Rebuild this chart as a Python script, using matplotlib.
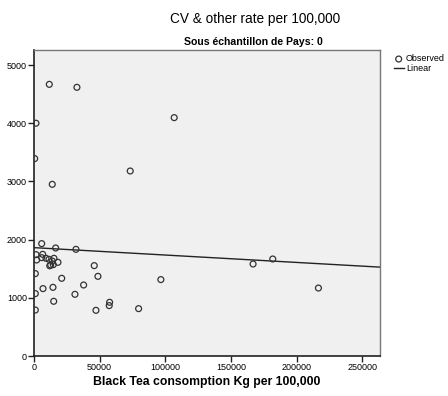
import numpy as np
import matplotlib
matplotlib.use("Agg")
import matplotlib.pyplot as plt

plt.rcParams['font.family'] = ['Liberation Sans', 'DejaVu Sans']

# observed points (tea consumption, CV rate)
tea = [11650, 32700, 1500, 500, 13900, 73300, 106800,
       96650, 166900, 181900, 216700,
       5860, 16500, 31960, 1500, 6600, 2000, 5860, 9130, 11400, 15200,
       13900, 18260, 12700, 14700, 12000, 45900, 1000, 48700, 21100,
       37800, 14460, 6850, 1000, 31200, 15000, 57600, 57300, 47200,
       79700, 1000]
cv = [4668, 4617, 4000, 3392, 2950, 3179, 4096,
      1313, 1581, 1667, 1168,
      1931, 1856, 1833, 1742, 1747, 1650, 1690, 1679, 1661, 1679,
      1632, 1610, 1564, 1570, 1550, 1553, 1416, 1369, 1335,
      1220, 1180, 1158, 1072, 1060, 940, 923, 866, 785,
      814, 790]

# linear fit shown in the chart
intercept = 1862
slope = -0.00127

fig = plt.figure(figsize=(4.48, 3.96), dpi=100, facecolor='w')
ax = fig.add_axes([0.0759, 0.101, 0.772, 0.773], facecolor='#f0f0f0')

ax.scatter(tea, cv, s=18, facecolors='none', edgecolors='#333333',
           linewidths=0.9, label='Observed', zorder=3)
xs = np.array([0, 263500])
ax.plot(xs, intercept + slope * xs, color='#222222', lw=1.0, label='Linear', zorder=2)

ax.set_xlim(0, 263500)
ax.set_ylim(0, 5260)
ax.set_xticks([0, 50000, 100000, 150000, 200000, 250000])
ax.set_yticks([0, 1000, 2000, 3000, 4000, 5000])
ax.tick_params(axis='both', labelsize=6.5, length=4, width=1.0, color='#222222',
               direction='out', pad=1)
for s in ('left', 'bottom'):
    ax.spines[s].set_color('#222222')
    ax.spines[s].set_linewidth(1.2)
for s in ('top', 'right'):
    ax.spines[s].set_color('#777777')
    ax.spines[s].set_linewidth(1.0)

ax.set_xlabel('Black Tea consomption Kg per 100,000', fontsize=8.8,
              fontweight='bold', labelpad=3)
fig.text(0.57, 0.951, 'CV & other rate per 100,000', fontsize=9.8,
         ha='center', va='center')
fig.text(0.565, 0.895, 'Sous échantillon de Pays: 0', fontsize=7.6,
         fontweight='bold', ha='center', va='center')

leg = ax.legend(loc='upper left', bbox_to_anchor=(1.027, 1.0), frameon=False,
                fontsize=6.5, handlelength=1.1, handletextpad=0.25,
                labelspacing=0.1, borderaxespad=0.3, borderpad=0.2)

fig.savefig('out.png', dpi=100)
